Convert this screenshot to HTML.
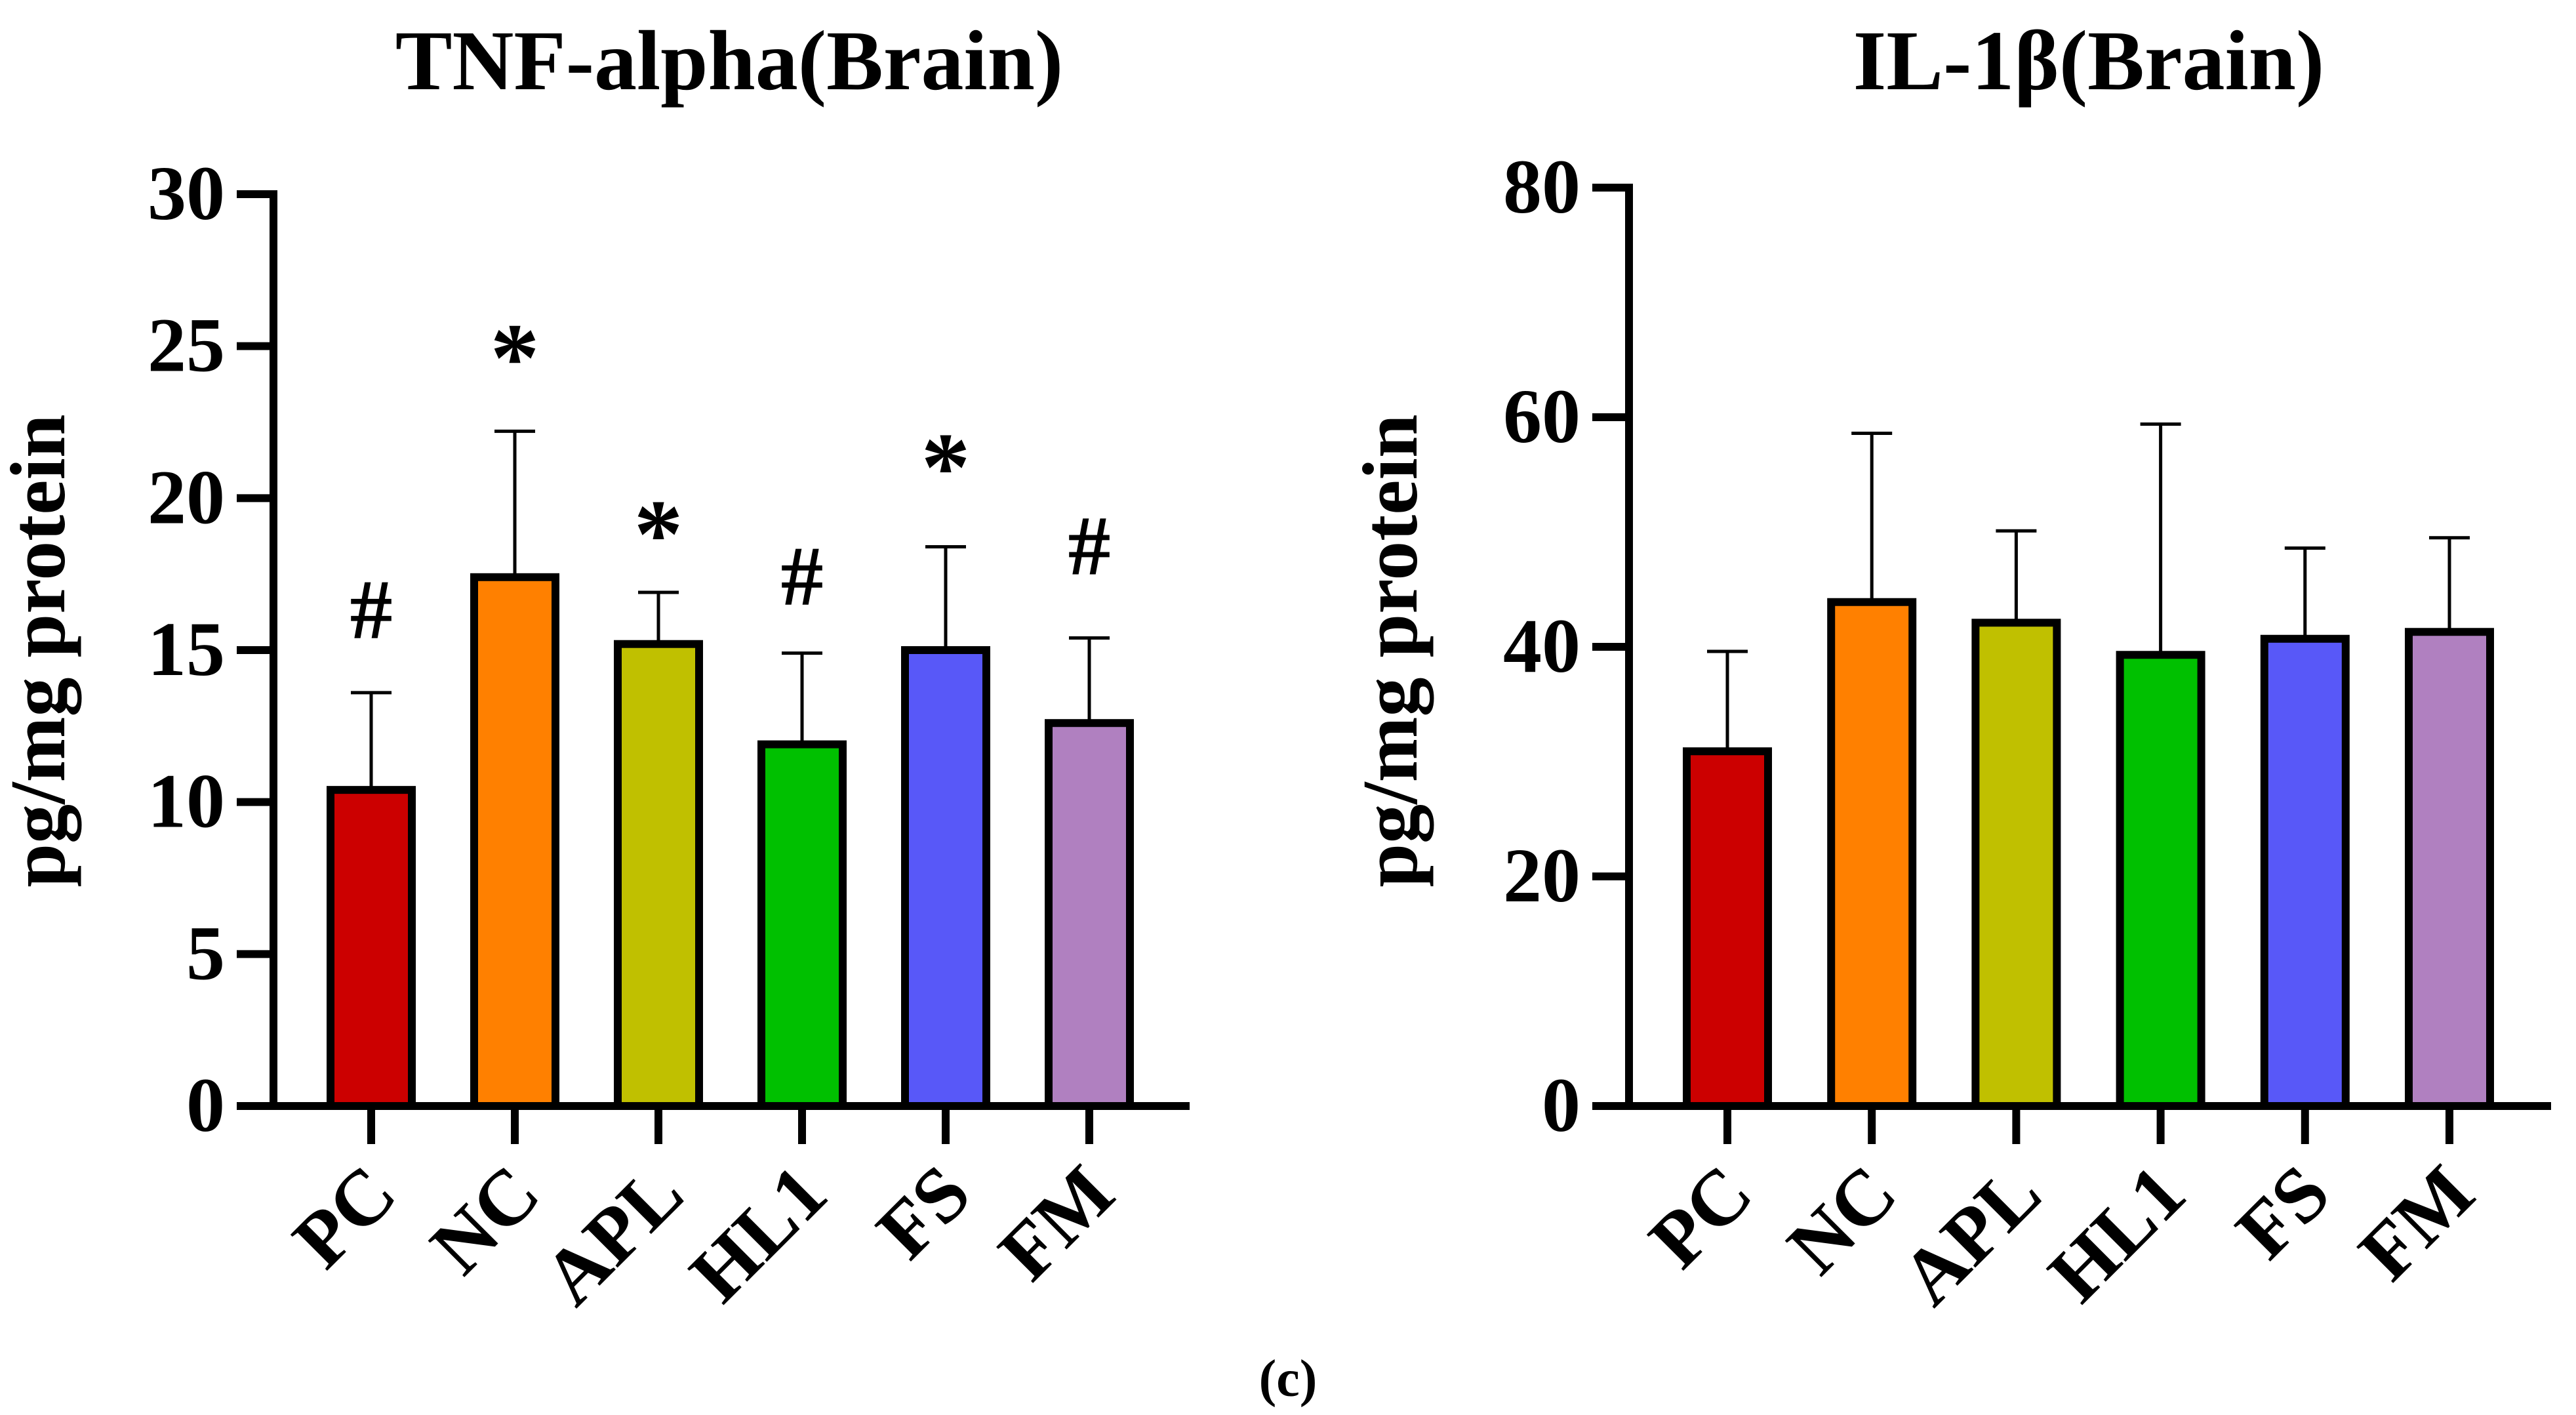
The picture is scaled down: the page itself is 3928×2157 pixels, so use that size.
<!DOCTYPE html>
<html><head><meta charset="utf-8">
<style>
html,body{margin:0;padding:0;background:#fff;}
svg{display:block;}
text{font-family:"Liberation Serif",serif;font-weight:bold;fill:#000;}
</style></head>
<body>
<svg id="chart" width="3928" height="2157" viewBox="0 0 3928 2157" xmlns="http://www.w3.org/2000/svg">
<text x="1964" y="2128" font-size="80" text-anchor="middle">(c)</text>
</svg>
<script>
const categories = ["PC","NC","APL","HL1","FS","FM"];
const colors = ["#CC0000","#FF8000","#C0C000","#00C000","#5858F8","#B080C0"];
const tnfMeans = [10.4,17.4,15.2,11.9,15.0,12.6];
const tnfSdTop = [13.6,22.2,16.9,14.9,18.4,15.4];
const tnfMarks = ["#","*","*","#","*","#"];
const tnfMarkY = [16.3,25.0,19.2,17.4,21.4,18.4];
const tnfTicks = [0,5,10,15,20,25,30];
const ilMeans = [30.9,43.9,42.1,39.3,40.7,41.3];
const ilSdTop = [39.6,58.6,50.1,59.4,48.6,49.5];
const ilTicks = [0,20,40,60,80];

const svg = document.getElementById('chart');
const NS = "http://www.w3.org/2000/svg";
function mk(tag, attrs, parent){
  const e = document.createElementNS(NS, tag);
  for (const k in attrs) e.setAttribute(k, attrs[k]);
  (parent||svg).appendChild(e);
  return e;
}

function panel(p){
  const g = mk('g', {});
  
  
  const y = v => p.y0 - v / p.ymax * (p.y0 - p.ytop);
  const x = i => p.x0 + i * p.step;
  const t = mk('text', {x:p.titleX, y:136, 'font-size':130, 'text-anchor':'middle'}, g);
  t.textContent = p.title;
  
  
  const yt = mk('text', {x:0, y:0, 'font-size':120, 'text-anchor':'middle', transform:`translate(${p.ytitleX},992) rotate(-90)`}, g);
  yt.textContent = 'pg/mg protein';
  
  
  p.means.forEach((m, i) => {
    const cx = x(i);
    const sd = mk('line', {x1:cx, x2:cx, y1:y(m), y2:y(p.sdTop[i]), stroke:'#000', 'stroke-width':5}, g);
    
    
    const cap = mk('line', {x1:cx-31, x2:cx+31, y1:y(p.sdTop[i]), y2:y(p.sdTop[i]), stroke:'#000', 'stroke-width':5}, g);
    
    
    const r = mk('rect', {x:cx-62, y:y(m), width:124, height:p.y0 - y(m), fill:colors[i], stroke:'#000', 'stroke-width':12}, g);
    
    
    const tk = mk('line', {x1:cx, x2:cx, y1:p.y0, y2:p.y0+58, stroke:'#000', 'stroke-width':12}, g);
    
    
    const lb = mk('text', {x:0, y:0, 'font-size':120, 'text-anchor':'end', transform:`translate(${cx+44},${p.y0+140}) rotate(-45)`}, g);
    lb.textContent = categories[i];
    
    
    if (p.marks) {
      const star = p.marks[i]==='*';
      const mt = mk('text', {x:cx, y:y(p.markY[i]) + (star?68:42), 'font-size':star?150:130, 'text-anchor':'middle'}, g);
      mt.textContent = p.marks[i];
      
      
    }
  });
  p.ticks.forEach(v => {
    const tl = mk('line', {x1:p.axisX-56, x2:p.axisX, y1:y(v), y2:y(v), stroke:'#000', 'stroke-width':12}, g);
    
    
    const tt = mk('text', {x:p.axisX-74, y:y(v)+38, 'font-size':118, 'text-anchor':'end'}, g);
    tt.textContent = v;
    
    
  });
  const ya = mk('line', {x1:p.axisX, x2:p.axisX, y1:p.ytop-6, y2:p.y0+6, stroke:'#000', 'stroke-width':12}, g);
  
  
  const xa = mk('line', {x1:p.axisX-6, x2:p.xend, y1:p.y0, y2:p.y0, stroke:'#000', 'stroke-width':12}, g);
  
  
}

panel({name:'tnf-alpha-chart', title:'TNF-alpha(Brain)', titleX:1112, ytitleX:98,
  axisX:417, x0:566, step:219, y0:1686, ytop:296, ymax:30, xend:1814,
  means:tnfMeans, sdTop:tnfSdTop, ticks:tnfTicks, marks:tnfMarks, markY:tnfMarkY});
panel({name:'il-1beta-chart', title:'IL-1β(Brain)', titleX:3185, ytitleX:2160,
  axisX:2484, x0:2634, step:220.2, y0:1686, ytop:286, ymax:80, xend:3890,
  means:ilMeans, sdTop:ilSdTop, ticks:ilTicks});
</script>
</body></html>
